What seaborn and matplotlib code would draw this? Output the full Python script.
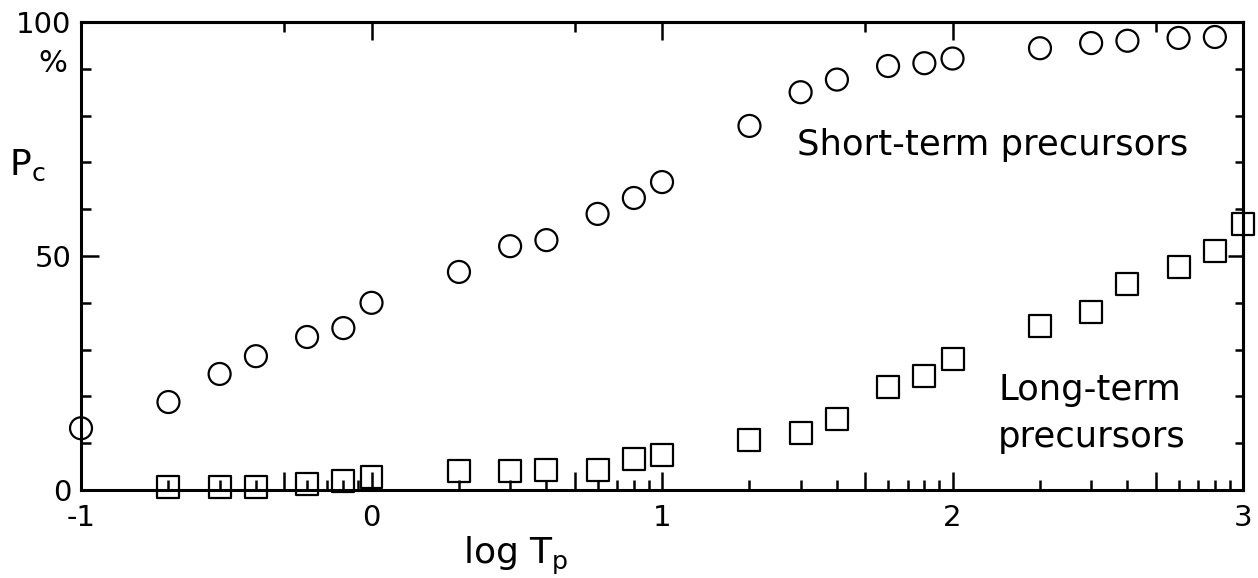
import numpy as np
import pandas as pd
import seaborn as sns
import matplotlib.pyplot as plt

# DATA (Tp values, Pc in %)
tp_short = [0.1, 0.2, 0.3, 0.4, 0.6, 0.8, 1, 2, 3, 4, 6, 8, 10,
            20, 30, 40, 60, 80, 100, 200, 300, 400, 600, 800]
pc_short = [13.2, 18.8, 24.8, 28.6, 32.7, 34.6, 40.0, 46.6, 52.1, 53.4, 59.0, 62.4, 65.8,
            77.8, 85.0, 87.7, 90.6, 91.2, 92.2, 94.4, 95.5, 96.0, 96.6, 96.8]

tp_long = [0.2, 0.3, 0.4, 0.6, 0.8, 1, 2, 3, 4, 6, 8, 10,
           20, 30, 40, 60, 80, 100, 200, 300, 400, 600, 800, 1000]
pc_long = [0.6, 0.6, 0.6, 1.2, 1.9, 2.7, 4.1, 4.1, 4.3, 4.3, 6.6, 7.5,
           10.7, 12.2, 15.2, 22.0, 24.4, 28.0, 35.0, 38.0, 44.0, 47.6, 51.1, 56.8]

x_tick_labels = ['-1', '0', '1', '2', '3']
y_tick_labels = ['0', '50', '100']

short_df = pd.DataFrame({'log_tp': np.log10(tp_short), 'pc': pc_short})
long_df = pd.DataFrame({'log_tp': np.log10(tp_long), 'pc': pc_long})

# STYLE - plain black on white like the scanned original
sns.set_theme(style='ticks')
plt.rcParams['font.family'] = ['DejaVu Sans']
plt.rcParams['axes.linewidth'] = 2.2
for key in ['text.color', 'axes.labelcolor', 'axes.edgecolor', 'xtick.color', 'ytick.color']:
    plt.rcParams[key] = 'black'

fig = plt.figure(figsize=(12.58, 5.78), dpi=100)
ax = fig.add_axes([0.0644, 0.1522, 0.9237, 0.8097])

# MARKERS
sns.scatterplot(data=short_df, x='log_tp', y='pc', marker='o', s=250,
                facecolor='none', edgecolor='black', linewidth=1.6,
                clip_on=False, zorder=3, ax=ax)
sns.scatterplot(data=long_df, x='log_tp', y='pc', marker='s', s=250,
                facecolor='none', edgecolor='black', linewidth=1.6,
                clip_on=False, zorder=3, ax=ax)

ax.set_xlim(-1, 3)
ax.set_ylim(0, 100)

# X TICKS: log decades, 1 and 5 long, the rest short
ints = [-1, 0, 1, 2, 3]
fives = [d + np.log10(5) for d in range(-1, 3)]
others = [d + np.log10(k) for d in range(-1, 3) for k in (2, 3, 4, 6, 7, 8, 9)]
ax.set_xticks(ints + fives, labels=x_tick_labels + [''] * len(fives))
ax.set_xticks(others, minor=True)
ax.tick_params(axis='x', which='major', direction='in', length=13, width=1.8,
               labelsize=21, pad=10, top=False)
ax.tick_params(axis='x', which='minor', direction='in', length=7, width=1.8, top=False)

top = ax.secondary_xaxis('top')
top.set_xticks(ints, labels=[''] * len(ints))
top.set_xticks(fives, minor=True)
top.tick_params(which='major', direction='in', length=13, width=1.8)
top.tick_params(which='minor', direction='in', length=7, width=1.8)
top.spines['top'].set_linewidth(2.2)

# Y TICKS
ax.set_yticks([0, 50, 100], labels=y_tick_labels)
ax.set_yticks(range(10, 100, 10), minor=True)
ax.tick_params(axis='y', which='major', direction='in', length=13, width=1.8,
               labelsize=21, pad=7, right=False)
ax.tick_params(axis='y', which='minor', direction='in', length=7, width=1.8, right=False)

right = ax.secondary_yaxis('right')
right.set_yticks([0, 50, 100], labels=['', '', ''])
right.set_yticks(range(10, 100, 10), minor=True)
right.tick_params(which='major', direction='in', length=11, width=1.8)
right.tick_params(which='minor', direction='in', length=6, width=1.8)
right.spines['right'].set_linewidth(2.2)

# LABELS
ax.set_xlabel('log T$_\\mathregular{p}$', fontsize=26, va='top')
ax.xaxis.set_label_coords(0.374, -0.095)
ax.set_ylabel('P$_\\mathregular{c}$', fontsize=26, rotation=0, ha='center', va='center')
ax.yaxis.set_label_coords(-0.046, 0.694)
ax.text(-0.012, 0.912, '%', transform=ax.transAxes, ha='right', va='center', fontsize=22)

ax.text(1.465, 73.7, 'Short-term precursors', fontsize=25.5, ha='left', va='center')
ax.text(2.157, 21.4, 'Long-term', fontsize=25.5, ha='left', va='center')
ax.text(2.157, 11.3, 'precursors', fontsize=25.5, ha='left', va='center')

fig.savefig('out.png', dpi=100)
